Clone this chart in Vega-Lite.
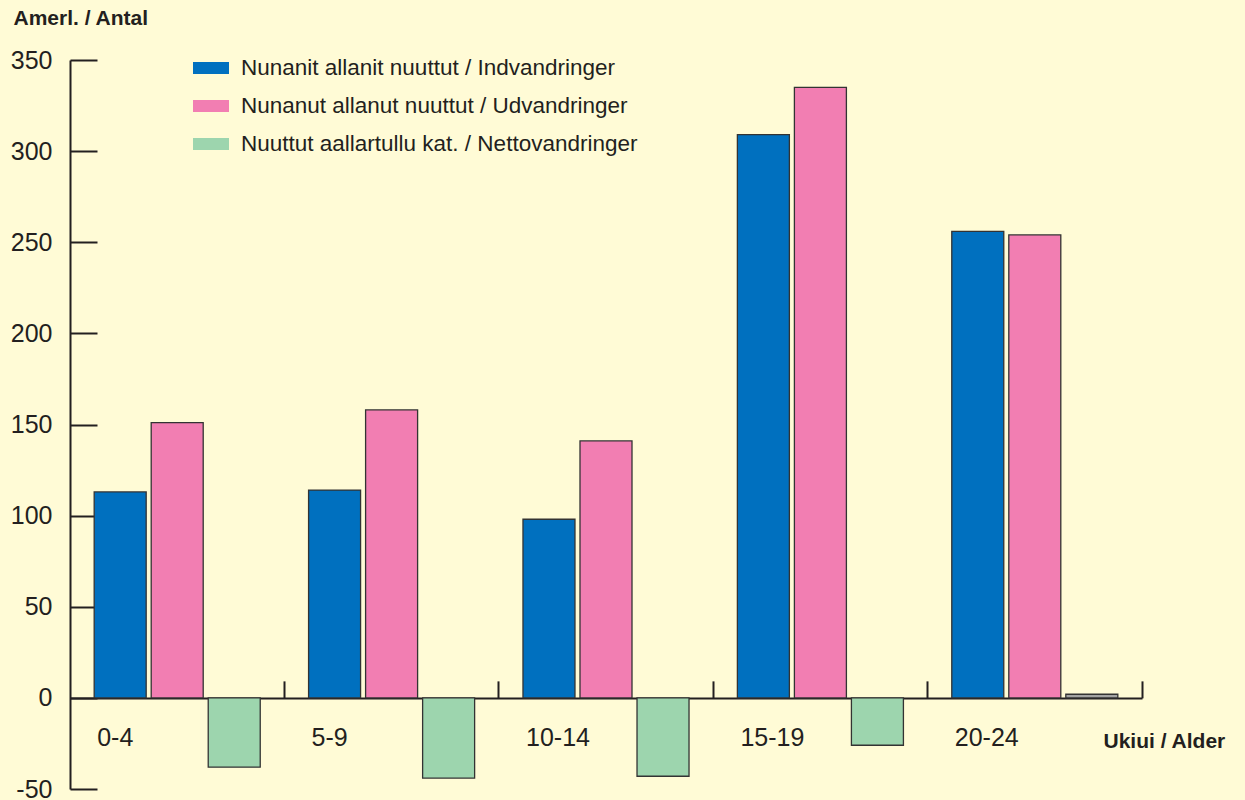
{
  "$schema": "https://vega.github.io/schema/vega-lite/v6.json",
  "width": 1072,
  "height": 729,
  "autosize": {"type": "none"},
  "padding": {"left": 70, "top": 60, "right": 103, "bottom": 11},
  "background": "#FFFBD6",
  "config": {
    "view": {"stroke": null},
    "font": "Liberation Sans"
  },
  "data": {
    "values": [
      {"age": "0-4", "series": "Nunanit allanit nuuttut / Indvandringer", "value": 113},
      {"age": "0-4", "series": "Nunanut allanut nuuttut / Udvandringer", "value": 151},
      {"age": "0-4", "series": "Nuuttut aallartullu kat. / Nettovandringer", "value": -38},
      {"age": "5-9", "series": "Nunanit allanit nuuttut / Indvandringer", "value": 114},
      {"age": "5-9", "series": "Nunanut allanut nuuttut / Udvandringer", "value": 158},
      {"age": "5-9", "series": "Nuuttut aallartullu kat. / Nettovandringer", "value": -44},
      {"age": "10-14", "series": "Nunanit allanit nuuttut / Indvandringer", "value": 98},
      {"age": "10-14", "series": "Nunanut allanut nuuttut / Udvandringer", "value": 141},
      {"age": "10-14", "series": "Nuuttut aallartullu kat. / Nettovandringer", "value": -43},
      {"age": "15-19", "series": "Nunanit allanit nuuttut / Indvandringer", "value": 309},
      {"age": "15-19", "series": "Nunanut allanut nuuttut / Udvandringer", "value": 335},
      {"age": "15-19", "series": "Nuuttut aallartullu kat. / Nettovandringer", "value": -26},
      {"age": "20-24", "series": "Nunanit allanit nuuttut / Indvandringer", "value": 256},
      {"age": "20-24", "series": "Nunanut allanut nuuttut / Udvandringer", "value": 254},
      {"age": "20-24", "series": "Nuuttut aallartullu kat. / Nettovandringer", "value": 2}
    ]
  },
  "mark": {"type": "bar", "stroke": "#333333", "strokeWidth": 1.3},
  "encoding": {
    "x": {
      "field": "age",
      "type": "nominal",
      "sort": null,
      "scale": {"paddingInner": 0, "paddingOuter": 0},
      "axis": {
        "orient": "bottom",
        "offset": -91.125,
        "bandPosition": 1,
        "labelAngle": 0,
        "labelAlign": "left",
        "labelBaseline": "middle",
        "labelOffset": -80,
        "labelPadding": 57,
        "labelFontSize": 25,
        "labelColor": "#231f20",
        "labelOverlap": false,
        "labelBound": false,
        "labelFlush": false,
        "tickSize": -17,
        "tickWidth": 2,
        "tickColor": "#231f20",
        "domainColor": "#231f20",
        "domainWidth": 2,
        "grid": false,
        "title": "Ukiui / Alder",
        "titleFontSize": 21,
        "titleFontWeight": "bold",
        "titleColor": "#231f20",
        "titleAlign": "left",
        "titleBaseline": "middle",
        "titleX": 1033,
        "titleY": 44
      }
    },
    "xOffset": {
      "field": "series",
      "type": "nominal",
      "sort": null,
      "scale": {"paddingInner": 0.088, "paddingOuter": 0.424}
    },
    "y": {
      "field": "value",
      "type": "quantitative",
      "scale": {"domain": [-50, 350], "nice": false, "zero": false},
      "axis": {
        "values": [-50, 0, 50, 100, 150, 200, 250, 300, 350],
        "labelExpr": "datum.value < 0 ? '-' + toString(-datum.value) : toString(datum.value)",
        "grid": false,
        "tickSize": -27,
        "tickWidth": 2,
        "tickColor": "#231f20",
        "domainColor": "#231f20",
        "domainWidth": 2,
        "labelPadding": 45,
        "labelFontSize": 25,
        "labelColor": "#231f20",
        "labelBound": false,
        "labelFlush": false,
        "labelOverlap": false,
        "title": "Amerl. / Antal",
        "titleAngle": 0,
        "titleFontSize": 21,
        "titleFontWeight": "bold",
        "titleColor": "#231f20",
        "titleAlign": "left",
        "titleBaseline": "middle",
        "titleX": -57,
        "titleY": -42
      }
    },
    "color": {
      "condition": {
        "test": "datum.age === '20-24' && datum.series === 'Nuuttut aallartullu kat. / Nettovandringer'",
        "value": "#a3a3a3"
      },
      "field": "series",
      "type": "nominal",
      "sort": null,
      "scale": {
        "domain": [
          "Nunanit allanit nuuttut / Indvandringer",
          "Nunanut allanut nuuttut / Udvandringer",
          "Nuuttut aallartullu kat. / Nettovandringer"
        ],
        "range": ["#0070BF", "#F27EB2", "#9DD5AE"]
      },
      "legend": {
        "orient": "none",
        "legendX": 123,
        "legendY": -10,
        "title": null,
        "symbolType": "M-1,-0.333H1V0.333H-1Z",
        "symbolSize": 1296,
        "symbolStrokeWidth": 0,
        "symbolOpacity": 1,
        "labelFontSize": 22.5,
        "labelColor": "#231f20",
        "labelOffset": 12,
        "labelLimit": 700,
        "rowPadding": 8
      }
    }
  }
}
